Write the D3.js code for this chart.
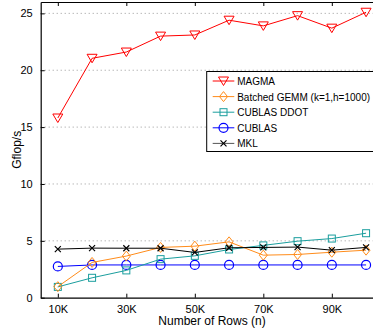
<!DOCTYPE html>
<html><head><meta charset="utf-8">
<script src="https://cdn.jsdelivr.net/npm/d3@7"></script>
<style>body{margin:0;background:#fff;overflow:hidden}svg{display:block;font-family:"Liberation Sans",Arial,sans-serif}</style>
</head><body>
<script>
const rows = [10000,20000,30000,40000,50000,60000,70000,80000,90000,100000];
const magma = [15.8,21.05,21.6,23.0,23.1,24.4,23.9,24.8,23.7,25.1];
const batched = [0.97,3.1,3.66,4.42,4.53,4.91,3.74,3.8,4.0,4.18];
const ddot = [0.95,1.75,2.4,3.39,3.68,4.24,4.6,4.97,5.2,5.67];
const cublas = [2.75,2.88,2.88,2.88,2.88,2.88,2.88,2.88,2.88,2.88];
const mkl = [4.27,4.36,4.35,4.35,3.98,4.39,4.42,4.45,4.18,4.42];
const xTicks = [10000,30000,50000,70000,90000];
const xTickLabels = ["10K","30K","50K","70K","90K"];
const yTicks = [0,5,10,15,20,25];
const seriesNames = ["MAGMA","Batched GEMM (k=1,h=1000)","CUBLAS DDOT","CUBLAS","MKL"];

const W=373,H=334;
const svg=d3.select("body").append("svg").attr("width",W).attr("height",H);
const L=40.7,T=2,B=297.7;
const x=d3.scaleLinear().domain([5000,105000]).range([L,L+34.25*10]);
const y=d3.scaleLinear().domain([0,26]).range([B,T]);
const R=x(105000);

// gridlines
svg.append("g").selectAll("line").data(yTicks.filter(d=>d>0)).join("line")
  .attr("x1",L).attr("x2",R).attr("y1",d=>y(d)).attr("y2",d=>y(d))
  .attr("stroke","#999").attr("stroke-width",1).attr("stroke-dasharray","1,3");

// axes
const fs=11;
const gx=svg.append("g").attr("transform",`translate(0,${B})`)
  .call(d3.axisBottom(x).tickValues(xTicks).tickFormat((d,i)=>xTickLabels[i]).tickSizeInner(-4).tickSizeOuter(0).tickPadding(8));
const gxt=svg.append("g").attr("transform",`translate(0,${T})`)
  .call(d3.axisTop(x).tickValues(xTicks).tickFormat("").tickSizeInner(-4).tickSizeOuter(0));
const gy=svg.append("g").attr("transform",`translate(${L},0)`)
  .call(d3.axisLeft(y).tickValues(yTicks).tickSizeInner(-4).tickSizeOuter(0).tickPadding(8));
[gx,gxt,gy].forEach(g=>{
  g.select(".domain").attr("stroke","#000").attr("stroke-width",1.2);
  g.selectAll(".tick line").attr("stroke","#000");
  g.selectAll("text").attr("fill","#000").style("font-size",fs+"px").style("font-family","Liberation Sans, Arial, sans-serif");
});

// axis labels
svg.append("text").attr("x",212).attr("y",325).attr("text-anchor","middle")
  .style("font-size","12px").text("Number of Rows (n)");
svg.append("text").attr("transform",`translate(21,${(T+B)/2}) rotate(-90)`).attr("text-anchor","middle")
  .style("font-size","12px").text("Gflop/s");

const data=[magma,batched,ddot,cublas,mkl];
const colors=["#ff0000","#ff8c1a","#1a9e9e","#0000ff","#000000"];
const markers=["tri","diamond","square","circle","x"];

function drawMarker(g,type,cx,cy,color){
  if(type==="tri"){
    const s=5;
    g.append("path").attr("d",`M${cx-s},${cy-s*0.8}L${cx+s},${cy-s*0.8}L${cx},${cy+s*0.9}Z`)
      .attr("fill","none").attr("stroke",color).attr("stroke-width",1);
  } else if(type==="diamond"){
    g.append("path").attr("d",`M${cx},${cy-5}L${cx+4},${cy}L${cx},${cy+5}L${cx-4},${cy}Z`)
      .attr("fill","none").attr("stroke",color).attr("stroke-width",1);
  } else if(type==="square"){
    g.append("rect").attr("x",cx-3.5).attr("y",cy-3.5).attr("width",7).attr("height",7)
      .attr("fill","none").attr("stroke",color).attr("stroke-width",1);
  } else if(type==="circle"){
    g.append("circle").attr("cx",cx).attr("cy",cy).attr("r",4.5)
      .attr("fill","none").attr("stroke",color).attr("stroke-width",1.2);
  } else {
    const s=3;
    g.append("path").attr("d",`M${cx-s},${cy-s}L${cx+s},${cy+s}M${cx-s},${cy+s}L${cx+s},${cy-s}`)
      .attr("stroke",color).attr("stroke-width",1.2);
  }
}

const line=d3.line().x((d,i)=>x(rows[i])).y(d=>y(d));
const order=[3,2,1,4,0];
order.forEach(k=>{
  const g=svg.append("g");
  g.append("path").datum(data[k]).attr("d",line).attr("fill","none").attr("stroke",colors[k]).attr("stroke-width",1);
  data[k].forEach((v,i)=>drawMarker(g,markers[k],x(rows[i]),y(v),colors[k]));
});

// legend
const lg=svg.append("g");
lg.append("rect").attr("x",206.7).attr("y",71.5).attr("width",180).attr("height",80)
  .attr("fill","#fff").attr("stroke","#000").attr("stroke-width",1);
const legColors=["#ff0000","#ff8c1a","#1a9e9e","#0000ff","#555555"];
seriesNames.forEach((n,k)=>{
  const yy=81+k*15.6;
  lg.append("line").attr("x1",212.7).attr("x2",234.3).attr("y1",yy).attr("y2",yy).attr("stroke",legColors[k]).attr("stroke-width",1);
  drawMarker(lg,markers[k],223.5,yy,k===4?"#000":legColors[k]);
  lg.append("text").attr("x",237.2).attr("y",yy+4).style("font-size","10px").text(n);
});
</script>
</body></html>
